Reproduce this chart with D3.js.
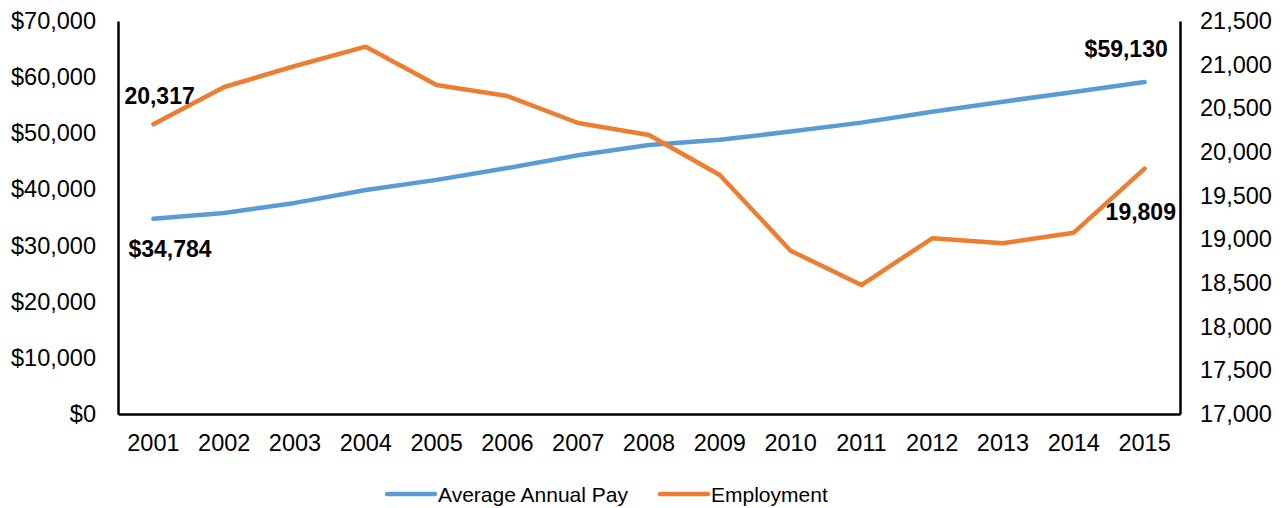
<!DOCTYPE html>
<html>
<head>
<meta charset="utf-8">
<script src="https://cdn.jsdelivr.net/npm/d3@7"></script>
<style>
  body { margin: 0; background: #fff; }
  text { font-family: "Liberation Sans", Arial, sans-serif; fill: #000; }
</style>
</head>
<body>
<script>
var years = ["2001","2002","2003","2004","2005","2006","2007","2008","2009","2010","2011","2012","2013","2014","2015"];
var pay = [34784, 35800, 37600, 39900, 41700, 43800, 46100, 47900, 48850, 50300, 51900, 53850, 55630, 57360, 59130];
var employment = [20317, 20744, 20985, 21206, 20767, 20641, 20332, 20195, 19737, 18870, 18477, 19012, 18955, 19076, 19809];
var payTicks = [0, 10000, 20000, 30000, 40000, 50000, 60000, 70000];
var empTicks = [17000, 17500, 18000, 18500, 19000, 19500, 20000, 20500, 21000, 21500];

var W = 1284, H = 508;
var margin = {top: 21, right: 104, bottom: 94, left: 118},
    width = W - margin.left - margin.right,
    height = H - margin.top - margin.bottom;

var svg = d3.select("body").append("svg")
    .attr("width", W).attr("height", H)
  .append("g")
    .attr("transform", "translate(" + margin.left + "," + margin.top + ")");

var x = d3.scaleBand().domain(years).range([0, width]);
var yL = d3.scaleLinear().domain([0, 70000]).range([height, 0]);
var yR = d3.scaleLinear().domain([17000, 21500]).range([height, 0]);

var cx = function(i){ return x(years[i]) + x.bandwidth() / 2; };

// axes
var fmtL = function(d){ return "$" + d3.format(",")(d); };
var axL = svg.append("g").call(d3.axisLeft(yL).tickValues(payTicks).tickFormat(fmtL).tickSize(0).tickPadding(22));
var axR = svg.append("g").attr("transform", "translate(" + width + ",0)")
    .call(d3.axisRight(yR).tickValues(empTicks).tickFormat(d3.format(",")).tickSize(0).tickPadding(20));
var axB = svg.append("g").attr("transform", "translate(0," + height + ")")
    .call(d3.axisBottom(x).tickSize(0).tickPadding(20));

[axL, axR, axB].forEach(function(a){
  a.select(".domain").attr("stroke", "#000").attr("stroke-width", 2.5);
  a.selectAll("text").style("font-size", "23.5px").style("font-family", "Liberation Sans, Arial, sans-serif");
});

// lines
var linePay = d3.line().x(function(d, i){ return cx(i); }).y(function(d){ return yL(d); });
var lineEmp = d3.line().x(function(d, i){ return cx(i); }).y(function(d){ return yR(d); });

svg.append("path").datum(pay).attr("d", linePay)
  .attr("fill", "none").attr("stroke", "#5B9BD5").attr("stroke-width", 4.5)
  .attr("stroke-linecap", "round").attr("stroke-linejoin", "round");
svg.append("path").datum(employment).attr("d", lineEmp)
  .attr("fill", "none").attr("stroke", "#ED7D31").attr("stroke-width", 4.5)
  .attr("stroke-linecap", "round").attr("stroke-linejoin", "round");

// data labels
var last = years.length - 1;
var labels = [
  {t: d3.format(",")(employment[0]), x: cx(0) - 29, y: yR(employment[0]) - 20},
  {t: fmtL(pay[0]), x: cx(0) - 25, y: yL(pay[0]) + 38},
  {t: fmtL(pay[last]), x: cx(last) - 60, y: yL(pay[last]) - 25},
  {t: d3.format(",")(employment[last]), x: cx(last) - 39, y: yR(employment[last]) + 51}
];
svg.selectAll(".lbl").data(labels).enter().append("text")
  .attr("class", "lbl")
  .attr("x", function(d){ return d.x; })
  .attr("y", function(d){ return d.y; })
  .style("font-size", "23px").style("font-weight", "bold")
  .text(function(d){ return d.t; });

// legend
var legend = [
  {name: "Average Annual Pay", color: "#5B9BD5", x: 387},
  {name: "Employment", color: "#ED7D31", x: 660}
];
var lg = d3.select("svg").selectAll(".lg").data(legend).enter().append("g")
  .attr("class", "lg")
  .attr("transform", function(d){ return "translate(" + d.x + ",494)"; });
lg.append("line").attr("x1", 0).attr("x2", 48).attr("y1", 0).attr("y2", 0)
  .attr("stroke", function(d){ return d.color; }).attr("stroke-width", 4.5).attr("stroke-linecap", "round");
lg.append("text").attr("x", 51).attr("y", 8).style("font-size", "21px")
  .text(function(d){ return d.name; });
</script>
</body>
</html>
